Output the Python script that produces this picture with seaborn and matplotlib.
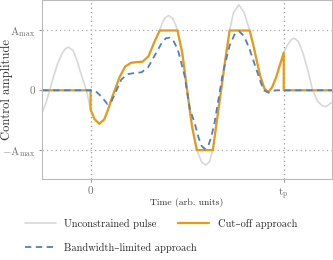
import numpy as np
import pandas as pd
import seaborn as sns
import matplotlib.pyplot as plt

# time in units of t_p, amplitude in units of A_max
t_free = [-0.25, -0.23, -0.21, -0.19, -0.17, -0.15, -0.13, -0.113, -0.09, -0.07,
          -0.05, -0.022, -0.01, 0.0, 0.02, 0.045, 0.07, 0.09, 0.11, 0.125,
          0.15, 0.18, 0.21, 0.235, 0.27, 0.30, 0.332, 0.358, 0.37, 0.385,
          0.405, 0.425, 0.44, 0.45, 0.475, 0.50, 0.525, 0.55, 0.575, 0.596,
          0.615, 0.633, 0.65, 0.675, 0.70, 0.72, 0.74, 0.768, 0.795, 0.824,
          0.845, 0.86, 0.88, 0.90, 0.92, 0.94, 0.96, 0.98, 1.0, 1.02,
          1.04, 1.055, 1.075, 1.10, 1.125, 1.15, 1.175, 1.20, 1.22, 1.25]
a_free = [-0.37, -0.20, 0.02, 0.25, 0.45, 0.60, 0.70, 0.72, 0.66, 0.50,
          0.28, 0.0, -0.17, -0.32, -0.48, -0.56, -0.49, -0.33, -0.13, 0.0,
          0.22, 0.40, 0.46, 0.47, 0.48, 0.57, 0.82, 1.0, 1.12, 1.21,
          1.25, 1.2, 1.1, 1.0, 0.62, 0.0, -0.6, -1.0, -1.2, -1.25,
          -1.2, -1.0, -0.6, -0.02, 0.57, 1.0, 1.3, 1.43, 1.3, 1.0,
          0.72, 0.5, 0.22, 0.03, -0.03, 0.05, 0.21, 0.42, 0.63, 0.76,
          0.85, 0.87, 0.82, 0.62, 0.33, 0.0, -0.18, -0.26, -0.27, -0.2]

t_cut = [-0.25, 0.0, 0.0, 0.02, 0.045, 0.07, 0.09, 0.11, 0.125, 0.15,
         0.18, 0.21, 0.235, 0.27, 0.30, 0.332, 0.358, 0.45, 0.475, 0.50,
         0.525, 0.55, 0.633, 0.65, 0.675, 0.70, 0.72, 0.824, 0.845, 0.86,
         0.88, 0.90, 0.92, 0.94, 0.96, 0.98, 1.0, 1.0, 1.25]
a_cut = [0.0, 0.0, -0.32, -0.48, -0.56, -0.49, -0.33, -0.13, 0.0, 0.22,
         0.40, 0.46, 0.47, 0.48, 0.57, 0.82, 1.0, 1.0, 0.62, 0.0,
         -0.6, -1.0, -1.0, -0.6, -0.02, 0.57, 1.0, 1.0, 0.72, 0.5,
         0.22, 0.03, -0.03, 0.05, 0.21, 0.42, 0.63, 0.0, 0.0]

t_bw = [-0.25, 0.021, 0.055, 0.087, 0.109, 0.133, 0.159, 0.193, 0.228, 0.263,
        0.297, 0.349, 0.37, 0.39, 0.409, 0.43, 0.452, 0.487, 0.513, 0.539,
        0.56, 0.575, 0.591, 0.61, 0.625, 0.642, 0.685, 0.72, 0.745, 0.768,
        0.79, 0.805, 0.824, 0.876, 0.896, 0.922, 0.945, 0.96, 1.25]
a_bw = [0.0, 0.0, -0.1, -0.23, -0.18, -0.01, 0.18, 0.27, 0.29, 0.30,
        0.38, 0.68, 0.80, 0.87, 0.88, 0.82, 0.68, 0.24, -0.3, -0.55,
        -0.8, -0.93, -0.98, -0.92, -0.78, -0.54, 0.29, 0.75, 0.93, 0.99,
        0.92, 0.83, 0.68, 0.18, 0.0, -0.04, -0.01, 0.0, 0.0]

labels = ["Unconstrained pulse", "Cut\u2013off approach", "Bandwidth\u2013limited approach"]

sns.set_style("ticks")
plt.rcParams['font.family'] = ['cmr10', 'DejaVu Serif']
plt.rcParams['mathtext.fontset'] = 'cm'
plt.rcParams['axes.unicode_minus'] = False

fig = plt.figure(figsize=(3.33, 2.6), dpi=100)
ax = fig.add_axes([0.127, 0.31, 0.87, 0.69])

dots = (0, (1, 2.5))
ax.axvline(0, color='#999999', ls=dots, lw=0.9, zorder=1)
ax.axvline(1, color='#999999', ls=dots, lw=0.9, zorder=1)
ax.axhline(1, color='#aaaaaa', ls=dots, lw=0.9, zorder=1)
ax.axhline(-1, color='#aaaaaa', ls=dots, lw=0.9, zorder=1)

df_free = pd.DataFrame({'t': t_free, 'a': a_free})
df_cut = pd.DataFrame({'t': t_cut, 'a': a_cut})
df_bw = pd.DataFrame({'t': t_bw, 'a': a_bw})

sns.lineplot(data=df_free, x='t', y='a', estimator=None, sort=False, ax=ax,
             color='#d8d8d8', lw=1.2, label=labels[0])
sns.lineplot(data=df_cut, x='t', y='a', estimator=None, sort=False, ax=ax,
             color='#e69a1c', lw=1.6, label=labels[1])
sns.lineplot(data=df_bw, x='t', y='a', estimator=None, sort=False, ax=ax,
             color='#4f7fbf', lw=1.3, ls=(0, (3.5, 2.5)), label=labels[2])

ax.set_xlim(-0.25, 1.25)
ax.set_ylim(-1.49, 1.51)
ax.set_xticks([0, 1])
ax.set_xticklabels(['0', r'$\mathrm{t}_{\mathrm{p}}$'])
ax.set_yticks([-1, 0, 1])
ax.set_yticklabels([r'$-\mathrm{A}_{\mathrm{max}}$', '0', r'$\mathrm{A}_{\mathrm{max}}$'])
ax.tick_params(labelsize=8, colors='#888888', labelcolor='#777777', length=2, width=0.6, pad=3)
ax.set_xlabel('Time (arb. units)', fontsize=7, color='#333333', labelpad=-3)
ax.set_ylabel('Control amplitude', fontsize=9, color='#333333')
ax.yaxis.set_label_coords(-0.1, 0.5)
for s in ax.spines.values():
    s.set_color('#bbbbbb')
    s.set_linewidth(0.8)

h, l = ax.get_legend_handles_labels()
kw = dict(loc='upper left', frameon=False, fontsize=7.5, handlelength=3.0,
          columnspacing=2.05, handletextpad=0.8, borderaxespad=0)
leg1 = ax.legend(h[:2], l[:2], ncol=2, bbox_to_anchor=(-0.075, -0.197), **kw)
ax.add_artist(leg1)
ax.legend(h[2:], l[2:], bbox_to_anchor=(-0.075, -0.332), **kw)

fig.savefig('out.png', dpi=100)
